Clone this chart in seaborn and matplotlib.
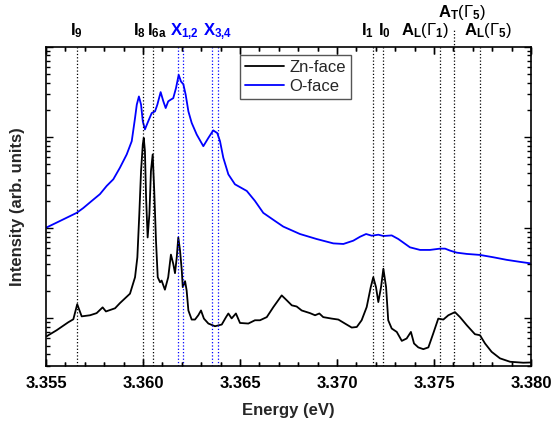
import seaborn as sns
import matplotlib.pyplot as plt
import matplotlib.transforms as mtransforms
from matplotlib.ticker import MultipleLocator, LogLocator, NullFormatter, FormatStrFormatter
import pandas as pd

# O-face spectrum (arb. units, log scale)
o_energy = [3.3550, 3.35555, 3.35658, 3.35692, 3.35736, 3.35778, 3.35813, 3.35847,
            3.35881, 3.35916, 3.35942, 3.35959, 3.35968, 3.35979, 3.3599, 3.35999,
            3.3601, 3.36027, 3.36045, 3.36062, 3.36074, 3.36091, 3.36105, 3.36117,
            3.3613, 3.36143, 3.36156, 3.3617, 3.36184, 3.36196, 3.36208, 3.3622,
            3.36234, 3.36251, 3.36277, 3.36311, 3.36337, 3.36362, 3.36383, 3.36397,
            3.36414, 3.3644, 3.36474, 3.36535, 3.36577, 3.3662, 3.3668, 3.36723,
            3.36809, 3.36895, 3.36981, 3.37033, 3.37084, 3.37119, 3.3715, 3.37179,
            3.37213, 3.37239, 3.37282, 3.37316, 3.37376, 3.37428, 3.37479, 3.37531,
            3.37557, 3.37583, 3.37617, 3.37669, 3.37737, 3.37806, 3.37875, 3.37943,
            3.37995]
o_intensity = [10.0, 11.4, 14.6, 16.5, 19.8, 23.5, 29.0, 34.3,
               46.0, 64.5, 90.4, 163, 229, 282, 229, 150,
               122, 150, 185, 193, 229, 315, 249, 210,
               249, 260, 270, 348, 489, 412, 385, 295,
               193, 144, 107, 79.6, 98.3, 119, 111, 90.4,
               59.3, 38.9, 30.2, 25.5, 19.8, 14.6, 11.9, 10.3,
               8.53, 7.51, 6.72, 6.62, 7.20, 7.96, 8.53, 8.17,
               8.38, 8.11, 8.23, 7.51, 6.08, 5.69, 5.69, 5.88,
               5.88, 5.59, 5.31, 5.14, 5.01, 4.72, 4.42, 4.20,
               4.05]

# Zn-face spectrum
zn_energy = [3.35504, 3.35555, 3.35615, 3.35641, 3.35661, 3.35684, 3.35727, 3.35761,
             3.35792, 3.35809, 3.35856, 3.35881, 3.35933, 3.35959, 3.35971, 3.35981,
             3.3599, 3.35999, 3.36004, 3.3601, 3.36016, 3.36024, 3.36033, 3.36041,
             3.3605, 3.36058, 3.36067, 3.36076, 3.36088, 3.36096, 3.36113, 3.3613,
             3.36144, 3.36156, 3.36165, 3.36174, 3.36182, 3.36191, 3.362, 3.36205,
             3.36217, 3.36225, 3.36234, 3.36251, 3.36268, 3.36285, 3.36299, 3.36314,
             3.36337, 3.36371, 3.36406, 3.36428, 3.3644, 3.36457, 3.36479, 3.3650,
             3.36543, 3.36577, 3.36603, 3.36638, 3.36672, 3.36715, 3.36741, 3.36767,
             3.36792, 3.36818, 3.36861, 3.36887, 3.36909, 3.36929, 3.36973, 3.37007,
             3.37041, 3.37076, 3.37102, 3.37127, 3.37153, 3.37174, 3.37187, 3.37201,
             3.37213, 3.37227, 3.37239, 3.37253, 3.37264, 3.37282, 3.37308, 3.37334,
             3.37359, 3.37381, 3.37397, 3.37419, 3.37445, 3.37471, 3.37496, 3.37522,
             3.37548, 3.37574, 3.37608, 3.37634, 3.37669, 3.37711, 3.37737, 3.37763,
             3.37797, 3.3784, 3.37892, 3.3796, 3.3800]
zn_intensity = [0.634, 0.738, 0.904, 0.975, 1.43, 1.05, 1.08, 1.14,
                1.32, 1.19, 1.29, 1.47, 1.87, 2.84, 4.72, 14.1,
                42.3, 83.1, 98.3, 70.2, 21.5, 7.82, 14.1, 42.3,
                64.5, 25.5, 7.20, 2.84, 2.50, 2.61, 2.07, 2.84,
                5.05, 3.99, 3.15, 4.72, 7.82, 5.59, 3.37, 2.21,
                2.57, 2.03, 1.22, 0.968, 0.968, 1.08, 1.22, 0.992,
                0.875, 0.817, 0.853, 1.03, 1.13, 0.997, 1.13, 0.888,
                0.875, 0.951, 0.951, 1.03, 1.33, 1.79, 1.58, 1.39,
                1.35, 1.22, 1.14, 1.08, 1.13, 1.03, 0.992, 0.968,
                0.875, 0.790, 0.802, 0.951, 1.33, 2.21, 2.84, 2.21,
                1.51, 2.21, 3.52, 2.21, 0.951, 0.771, 0.707, 0.563,
                0.598, 0.707, 0.527, 0.477, 0.456, 0.477, 0.679, 0.992,
                0.968, 1.08, 1.17, 1.03, 0.838, 0.667, 0.650, 0.527,
                0.426, 0.361, 0.331, 0.323, 0.325]

# transition energies (eV)
bound_names = ['I_9', 'I_8', 'I_{6a}', 'I_1', 'I_0']
bound_energy = [3.35658, 3.36002, 3.3605, 3.37187, 3.37239]
free_names = ['X_{1{,}2}', 'X_{3{,}4}']
free_energy = [[3.36179, 3.36208], [3.36356, 3.36385]]
pol_names = ['A_L(\\Gamma_1)', 'A_T(\\Gamma_5)', 'A_L(\\Gamma_5)']
pol_energy = [3.37531, 3.37605, 3.37737]

# label centres (layout)
bound_label_x = [3.35657, 3.35982, 3.3607, 3.37157, 3.37242]
free_label_x = [3.36214, 3.36387]
pol_label_x = [3.37454, 3.37642, 3.37778]
pol_label_row = [0, 1, 0]

sns.set_style('ticks')
plt.rcParams.update({
    'font.family': ['Liberation Sans', 'DejaVu Sans'],
    'mathtext.fontset': 'custom',
    'mathtext.rm': 'Liberation Sans',
    'mathtext.bf': 'Liberation Sans:bold',
    'mathtext.it': 'Liberation Sans:italic',
    'axes.edgecolor': 'black',
    'axes.linewidth': 1.2,
    'xtick.color': 'black', 'ytick.color': 'black',
    'xtick.direction': 'in', 'ytick.direction': 'in',
    'xtick.bottom': True, 'xtick.top': True,
    'ytick.left': True, 'ytick.right': True,
    'xtick.major.size': 5, 'ytick.major.size': 5,
    'xtick.minor.size': 2.8, 'ytick.minor.size': 2.8,
    'xtick.major.width': 1.0, 'ytick.major.width': 1.0,
    'xtick.minor.width': 1.0, 'ytick.minor.width': 1.0,
    'xtick.major.pad': 7, 'xtick.labelsize': 12,
})

d1 = pd.DataFrame({'energy': zn_energy, 'intensity': zn_intensity})
d1['face'] = 'Zn-face'
d2 = pd.DataFrame({'energy': o_energy, 'intensity': o_intensity})
d2['face'] = 'O-face'
df = pd.concat([d1, d2], ignore_index=True)

fig = plt.figure(figsize=(5.54, 4.26), dpi=100)
rect = [0.083, 0.1408, 0.8755, 0.7496]
ax = fig.add_axes(rect)
sns.lineplot(data=df, x='energy', y='intensity', hue='face', estimator=None,
             sort=False, palette={'Zn-face': 'black', 'O-face': '#0000ff'},
             hue_order=['Zn-face', 'O-face'], linewidth=1.3, ax=ax)
ax.set_yscale('log')
ax.set_xlim(3.355, 3.380)
ax.set_ylim(0.297, 1000)

trans = mtransforms.blended_transform_factory(ax.transData, ax.transAxes)
row_y = [1.036, 1.093]
lab_kw = dict(transform=trans, ha='center', va='baseline', fontsize=12)

for e in bound_energy:
    ax.axvline(e, color='black', ls=':', lw=0.9)
for n, xl in zip(bound_names, bound_label_x):
    name = n.replace('_', '}_{\\mathbf{', 1)
    ax.text(xl, row_y[0], '$\\mathbf{' + name + '}}$', color='black', **lab_kw)
for pair, n, xl in zip(free_energy, free_names, free_label_x):
    for e in pair:
        ax.axvline(e, color='#0000ff', ls=':', lw=0.9)
    name = n.replace('_{', '}_{\\mathbf{', 1)
    ax.text(xl, row_y[0], '$\\mathbf{' + name + '}$', color='#0000ff', **lab_kw)
for e, n, xl, r in zip(pol_energy, pol_names, pol_label_x, pol_label_row):
    top = 1.0 if r == 0 else 1.055
    ax.axvline(e, ymax=top, color='black', ls=':', lw=0.9, clip_on=False)
    letter, rest = n.split('(')
    sub = letter[-1]
    gsub = rest[-2]
    txt = ('$\\mathbf{A}_\\mathbf{' + sub + '}(\\Gamma_\\mathbf{' + gsub + '})$')
    ax.text(xl, row_y[r], txt, color='black', **lab_kw)

ax.xaxis.set_major_locator(MultipleLocator(0.005))
ax.xaxis.set_minor_locator(MultipleLocator(0.001))
ax.xaxis.set_major_formatter(FormatStrFormatter('%.3f'))
ax.yaxis.set_major_locator(LogLocator(base=10))
ax.yaxis.set_minor_locator(LogLocator(base=10, subs=range(2, 10), numticks=20))
ax.yaxis.set_major_formatter(NullFormatter())
ax.yaxis.set_minor_formatter(NullFormatter())
for lbl in ax.get_xticklabels():
    lbl.set_fontweight('bold')

ax.set_xlabel('Energy (eV)', fontsize=12, fontweight='bold', labelpad=9)
ax.set_ylabel('Intensity (arb. units)', fontsize=12, fontweight='bold')
ax.yaxis.set_label_coords(-0.043, 0.5)

leg = ax.legend(loc='upper left', bbox_to_anchor=(0.4, 0.974), borderaxespad=0,
                fontsize=12, fancybox=False, handlelength=2.35, handletextpad=0.3,
                labelspacing=0.25, borderpad=0.3, title=None)
leg.get_frame().set_edgecolor('#555555')
leg.get_frame().set_linewidth(1.0)
leg.get_frame().set_alpha(1)

# transparent overlay carrying the energy ticks (top and bottom)
ov = fig.add_axes(rect)
ov.patch.set_visible(False)
ov.set_xlim(3.355, 3.380)
ov.xaxis.set_major_locator(MultipleLocator(0.005))
ov.xaxis.set_minor_locator(MultipleLocator(0.001))
ov.tick_params(axis='x', which='both', direction='in', top=True, bottom=True,
               labelbottom=False, labeltop=False)
ov.tick_params(axis='y', which='both', left=False, right=False, labelleft=False)
for s in ov.spines.values():
    s.set_visible(False)

fig.savefig('out.png', dpi=100)
